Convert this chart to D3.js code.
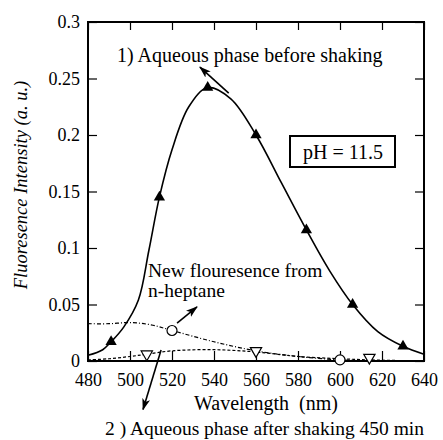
<!DOCTYPE html>
<html>
<head>
<meta charset="utf-8">
<script src="https://cdn.jsdelivr.net/npm/d3@7"></script>
<style>
  html, body { margin: 0; padding: 0; background: #fff; }
  svg text { font-family: "Liberation Serif", "Times New Roman", serif; fill: #000; }
</style>
</head>
<body>
<svg id="chart" width="443" height="440"></svg>
<script>
// ---- data ----
const xTicks = [480, 500, 520, 540, 560, 580, 600, 620, 640];
const yTicks = [0, 0.05, 0.1, 0.15, 0.2, 0.25, 0.3];
const yTickLabels = ["0", "0.05", "0.1", "0.15", "0.2", "0.25", "0.3"];

// 1) Aqueous phase before shaking (solid line, filled triangles)
const s1CurveX = [480, 487, 491, 497, 504, 509, 514, 520, 528, 537, 548, 560, 572, 584, 595, 606, 618, 630, 640];
const s1CurveY = [0.005, 0.010, 0.017, 0.030, 0.054, 0.098, 0.145, 0.187, 0.225, 0.242, 0.232, 0.200, 0.158, 0.116, 0.080, 0.050, 0.026, 0.013, 0.006];
const s1MarkX = [491, 514, 537, 560, 584, 606, 630];
const s1MarkY = [0.017, 0.145, 0.242, 0.200, 0.116, 0.050, 0.013];

// 2) Aqueous phase after shaking 450 min (dashed line, open inverted triangles)
const s2CurveX = [480, 490, 500, 508, 520, 540, 560, 580, 600, 614, 640];
const s2CurveY = [0.001, 0.002, 0.004, 0.006, 0.009, 0.010, 0.008, 0.004, 0.002, 0.001, 0.000];
const s2MarkX = [508, 560, 614];
const s2MarkY = [0.006, 0.009, 0.003];

// New fluorescence from n-heptane (dash-dot line, open circles)
const s3CurveX = [480, 490, 500, 510, 520, 540, 560, 580, 600, 620, 640];
const s3CurveY = [0.033, 0.033, 0.034, 0.032, 0.027, 0.017, 0.009, 0.004, 0.001, 0.000, 0.000];
const s3MarkX = [520, 600];
const s3MarkY = [0.027, 0.001];

// ---- layout ----
const svg = d3.select("#chart");
const L = 88, R = 424, T = 22, B = 361;
const x = d3.scaleLinear().domain([480, 640]).range([L, R]);
const y = d3.scaleLinear().domain([0, 0.3]).range([B, T]);

svg.append("defs").append("marker")
  .attr("id", "ah").attr("viewBox", "0 0 12 8").attr("refX", 11).attr("refY", 4)
  .attr("markerWidth", 12).attr("markerHeight", 8).attr("markerUnits", "userSpaceOnUse")
  .attr("orient", "auto")
  .append("path").attr("d", "M0,0 L12,4 L0,8 L3,4 Z").attr("fill", "#000");

// axes (inward ticks)
const gB = svg.append("g").attr("transform", `translate(0,${B})`)
  .call(d3.axisBottom(x).tickValues(xTicks).tickSize(-10).tickPadding(12).tickFormat(d3.format("d")));
const gT = svg.append("g").attr("transform", `translate(0,${T})`)
  .call(d3.axisTop(x).tickValues(xTicks).tickSize(-8).tickFormat(""));
const gL = svg.append("g").attr("transform", `translate(${L},0)`)
  .call(d3.axisLeft(y).tickValues(yTicks).tickSize(-9).tickPadding(8).tickFormat((d, i) => yTickLabels[i]));
const gR = svg.append("g").attr("transform", `translate(${R},0)`)
  .call(d3.axisRight(y).tickValues(yTicks).tickSize(-9).tickFormat(""));
[gB, gT, gL, gR].forEach(g => {
  g.attr("font-family", null);
  g.select(".domain").remove();
  g.selectAll(".tick line").attr("stroke", "#000").attr("stroke-width", 1.2);
  g.selectAll("text").style("font-size", "18px");
});

svg.append("rect").attr("x", L).attr("y", T).attr("width", R - L).attr("height", B - T)
  .attr("fill", "none").attr("stroke", "#000").attr("stroke-width", 2);

const line = d3.line().x(d => x(d[0])).y(d => y(d[1])).curve(d3.curveCatmullRom.alpha(0.5));
const zip = (a, b) => a.map((v, i) => [v, b[i]]);

svg.append("path").datum(zip(s3CurveX, s3CurveY)).attr("d", line)
  .attr("fill", "none").attr("stroke", "#000").attr("stroke-width", 1.2).attr("stroke-dasharray", "4,2,1,2");
svg.append("path").datum(zip(s2CurveX, s2CurveY)).attr("d", line)
  .attr("fill", "none").attr("stroke", "#000").attr("stroke-width", 1.2).attr("stroke-dasharray", "3,2");
svg.append("path").datum(zip(s1CurveX, s1CurveY)).attr("d", line)
  .attr("fill", "none").attr("stroke", "#000").attr("stroke-width", 1.6);

const tri = d3.symbol().type(d3.symbolTriangle).size(55);
svg.selectAll(".m1").data(zip(s1MarkX, s1MarkY)).join("path")
  .attr("transform", d => `translate(${x(d[0])},${y(d[1])})`).attr("d", tri).attr("fill", "#000");
svg.selectAll(".m2").data(zip(s2MarkX, s2MarkY)).join("path")
  .attr("transform", d => `translate(${x(d[0])},${y(d[1])}) rotate(180)`).attr("d", tri)
  .attr("fill", "#fff").attr("stroke", "#000").attr("stroke-width", 1.2);
svg.selectAll(".m3").data(zip(s3MarkX, s3MarkY)).join("circle")
  .attr("cx", d => x(d[0])).attr("cy", d => y(d[1])).attr("r", 5)
  .attr("fill", "#fff").attr("stroke", "#000").attr("stroke-width", 1.2);

// annotation arrows (data coordinates)
const arrows = [
  [[547, 0.237], [533.3, 0.26]],
  [[522.4, 0.0336], [531.9, 0.0478]],
  [[514.8, 0.0097], [506.2, -0.043]]
];
arrows.forEach(a => {
  svg.append("line").attr("x1", x(a[0][0])).attr("y1", y(a[0][1]))
    .attr("x2", x(a[1][0])).attr("y2", y(a[1][1]))
    .attr("stroke", "#000").attr("stroke-width", 1.6).attr("marker-end", "url(#ah)");
});

// texts
svg.append("text").attr("x", 117).attr("y", 62).style("font-size", "20px")
  .text("1) Aqueous phase before shaking");
svg.append("rect").attr("x", 290).attr("y", 136).attr("width", 105).attr("height", 31)
  .attr("fill", "#fff").attr("stroke", "#000").attr("stroke-width", 2);
svg.append("text").attr("x", 343).attr("y", 159).attr("text-anchor", "middle").style("font-size", "20px")
  .text("pH = 11.5");
svg.append("text").attr("x", 148).attr("y", 277).style("font-size", "19.5px").text("New flouresence from");
svg.append("text").attr("x", 148).attr("y", 297).style("font-size", "19.5px").text("n-heptane");
svg.append("text").attr("x", 266).attr("y", 410).attr("text-anchor", "middle").style("font-size", "20px")
  .style("white-space", "pre").text("Wavelength  (nm)");
svg.append("text").attr("x", 105).attr("y", 435).style("font-size", "19.5px")
  .text("2 ) Aqueous phase after shaking 450 min");
svg.append("text").attr("transform", "translate(27,185) rotate(-90)").attr("text-anchor", "middle")
  .style("font-size", "18.5px").style("font-style", "italic")
  .text("Fluoresence Intensity (a. u.)");
</script>
</body>
</html>
